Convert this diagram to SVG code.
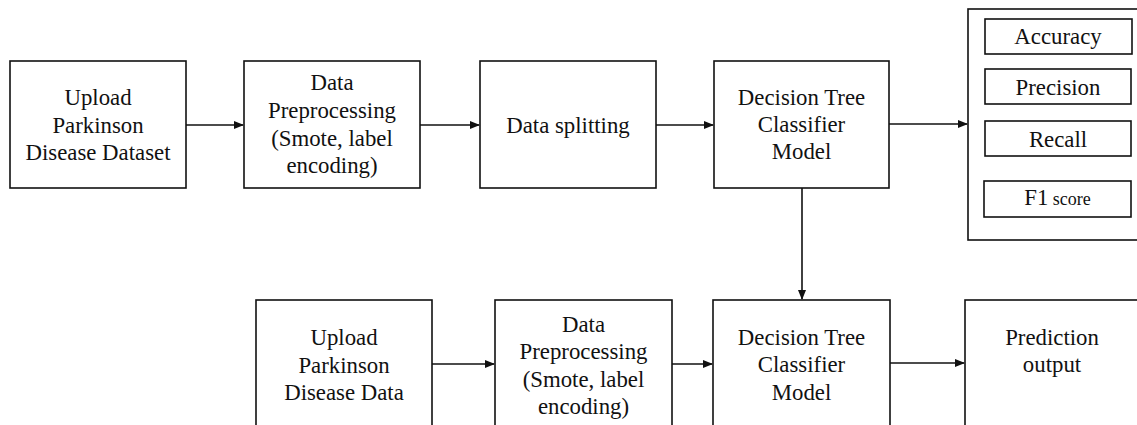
<svg xmlns="http://www.w3.org/2000/svg" width="1137" height="425" viewBox="0 0 1137 425">
<style>
.box{fill:#fff;stroke:#111;stroke-width:1.6}
.t{font-family:'Liberation Serif','Times New Roman',serif;font-size:22.8px;fill:#111;text-anchor:middle}
.c{stroke:#111;stroke-width:1.6;fill:none}
</style>
<defs>
<marker id="ah" markerWidth="10" markerHeight="8" refX="9" refY="4" orient="auto" markerUnits="userSpaceOnUse">
<path d="M0,0 L10,4 L0,8 Z" fill="#111"/>
</marker>
</defs>
<rect width="1137" height="425" fill="#fff"/>
<g id="connectors">
<line class="c" x1="186" y1="125" x2="243" y2="125" marker-end="url(#ah)"/>
<line class="c" x1="420" y1="125" x2="479" y2="125" marker-end="url(#ah)"/>
<line class="c" x1="656" y1="125" x2="713" y2="125" marker-end="url(#ah)"/>
<line class="c" x1="889" y1="124" x2="967" y2="124" marker-end="url(#ah)"/>
<line class="c" x1="802" y1="188" x2="802" y2="299" marker-end="url(#ah)"/>
<line class="c" x1="432" y1="364" x2="494" y2="364" marker-end="url(#ah)"/>
<line class="c" x1="672" y1="364" x2="712" y2="364" marker-end="url(#ah)"/>
<line class="c" x1="890" y1="363" x2="964" y2="363" marker-end="url(#ah)"/>
</g>
<g id="upload-dataset">
<rect class="box" x="10" y="61" width="176" height="127"/>
<text class="t" x="98" y="105">Upload</text>
<text class="t" x="98" y="132.5">Parkinson</text>
<text class="t" x="98" y="160">Disease Dataset</text>
</g>
<g id="preprocessing-top">
<rect class="box" x="244" y="61" width="176" height="127"/>
<text class="t" x="332" y="90">Data</text>
<text class="t" x="332" y="118">Preprocessing</text>
<text class="t" x="332" y="145.5">(Smote, label</text>
<text class="t" x="332" y="173">encoding)</text>
</g>
<g id="data-splitting">
<rect class="box" x="480" y="61" width="176" height="127"/>
<text class="t" x="568" y="132.5">Data splitting</text>
</g>
<g id="dt-top">
<rect class="box" x="714" y="61" width="175" height="127"/>
<text class="t" x="801.5" y="104.5">Decision Tree</text>
<text class="t" x="801.5" y="131.5">Classifier</text>
<text class="t" x="801.5" y="158.5">Model</text>
</g>
<g id="metrics">
<rect class="box" x="968" y="9" width="190" height="231"/>
<rect class="box" x="985" y="19" width="147" height="35"/>
<text class="t" x="1058" y="44">Accuracy</text>
<rect class="box" x="985" y="69" width="146" height="35"/>
<text class="t" x="1058" y="95">Precision</text>
<rect class="box" x="985" y="121" width="146" height="35"/>
<text class="t" x="1058" y="146.5">Recall</text>
<rect class="box" x="984" y="181" width="147" height="36"/>
<text class="t" x="1057.5" y="205">F1<tspan font-size="18"> score</tspan></text>
</g>
<g id="upload-data">
<rect class="box" x="256" y="300" width="176" height="140"/>
<text class="t" x="344" y="345">Upload</text>
<text class="t" x="344" y="372.5">Parkinson</text>
<text class="t" x="344" y="399.5">Disease Data</text>
</g>
<g id="preprocessing-bottom">
<rect class="box" x="495" y="300" width="177" height="140"/>
<text class="t" x="583.5" y="331.5">Data</text>
<text class="t" x="583.5" y="359">Preprocessing</text>
<text class="t" x="583.5" y="386.5">(Smote, label</text>
<text class="t" x="583.5" y="413.5">encoding)</text>
</g>
<g id="dt-bottom">
<rect class="box" x="713" y="300" width="177" height="140"/>
<text class="t" x="801.5" y="345">Decision Tree</text>
<text class="t" x="801.5" y="372">Classifier</text>
<text class="t" x="801.5" y="400">Model</text>
</g>
<g id="prediction">
<rect class="box" x="965" y="300" width="190" height="140"/>
<text class="t" x="1052" y="345">Prediction</text>
<text class="t" x="1052" y="372">output</text>
</g>
</svg>
